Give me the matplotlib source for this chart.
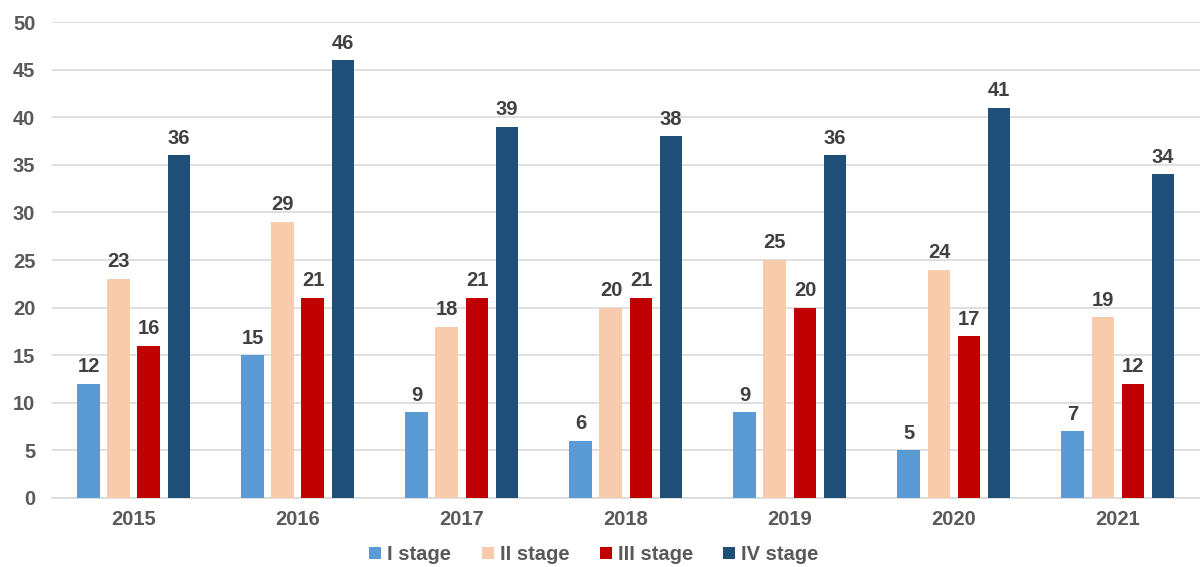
import matplotlib.pyplot as plt
import numpy as np

years = ['2015', '2016', '2017', '2018', '2019', '2020', '2021']
stage_names = ['I stage', 'II stage', 'III stage', 'IV stage']
stage1 = [12, 15, 9, 6, 9, 5, 7]
stage2 = [23, 29, 18, 20, 25, 24, 19]
stage3 = [16, 21, 21, 21, 20, 17, 12]
stage4 = [36, 46, 39, 38, 36, 41, 34]
colors = ['#5B9BD5', '#F8CBAD', '#C00000', '#1F4E79']

plt.rcParams['font.family'] = ['Liberation Sans', 'DejaVu Sans']
plt.rcParams['font.weight'] = 'bold'

fig = plt.figure(figsize=(12, 5.67), dpi=100)
ax = fig.add_axes([0.0433, 0.1217, 0.9567, 0.8394])

x = np.arange(len(years))
width = 0.14
step = 0.183
series = [stage1, stage2, stage3, stage4]
for i, (vals, name, col) in enumerate(zip(series, stage_names, colors)):
    pos = x + (i - 1.5) * step
    bars = ax.bar(pos, vals, width, color=col, label=name, zorder=3)
    for b, v in zip(bars, vals):
        ax.text(b.get_x() + b.get_width() / 2, v + 0.8, str(v), ha='center', va='bottom',
                fontsize=14.5, fontweight='bold', color='#404040')

ax.set_xlim(-0.5, len(years) - 0.5)
ax.set_ylim(0, 50)
ax.set_yticks(range(0, 51, 5))
ax.set_xticks(x)
ax.set_xticklabels(years)
ax.tick_params(axis='both', length=0, labelsize=14.5, labelcolor='#595959')
ax.tick_params(axis='x', pad=9)
ax.tick_params(axis='y', pad=12)
ax.grid(axis='y', color='#D9D9D9', linewidth=1.2, zorder=0)
for s in ['top', 'right', 'left']:
    ax.spines[s].set_visible(False)
ax.spines['bottom'].set_color('#D9D9D9')
ax.spines['bottom'].set_linewidth(1.2)

handles, labels = ax.get_legend_handles_labels()
leg = fig.legend(handles, labels, loc='center', bbox_to_anchor=(0.495, 0.022), ncol=4,
                 frameon=False, fontsize=14.5, handlelength=0.6, handleheight=0.6,
                 handletextpad=0.3, columnspacing=1.5, borderpad=0)
for t in leg.get_texts():
    t.set_color('#595959')

fig.savefig('out.png', dpi=100)
